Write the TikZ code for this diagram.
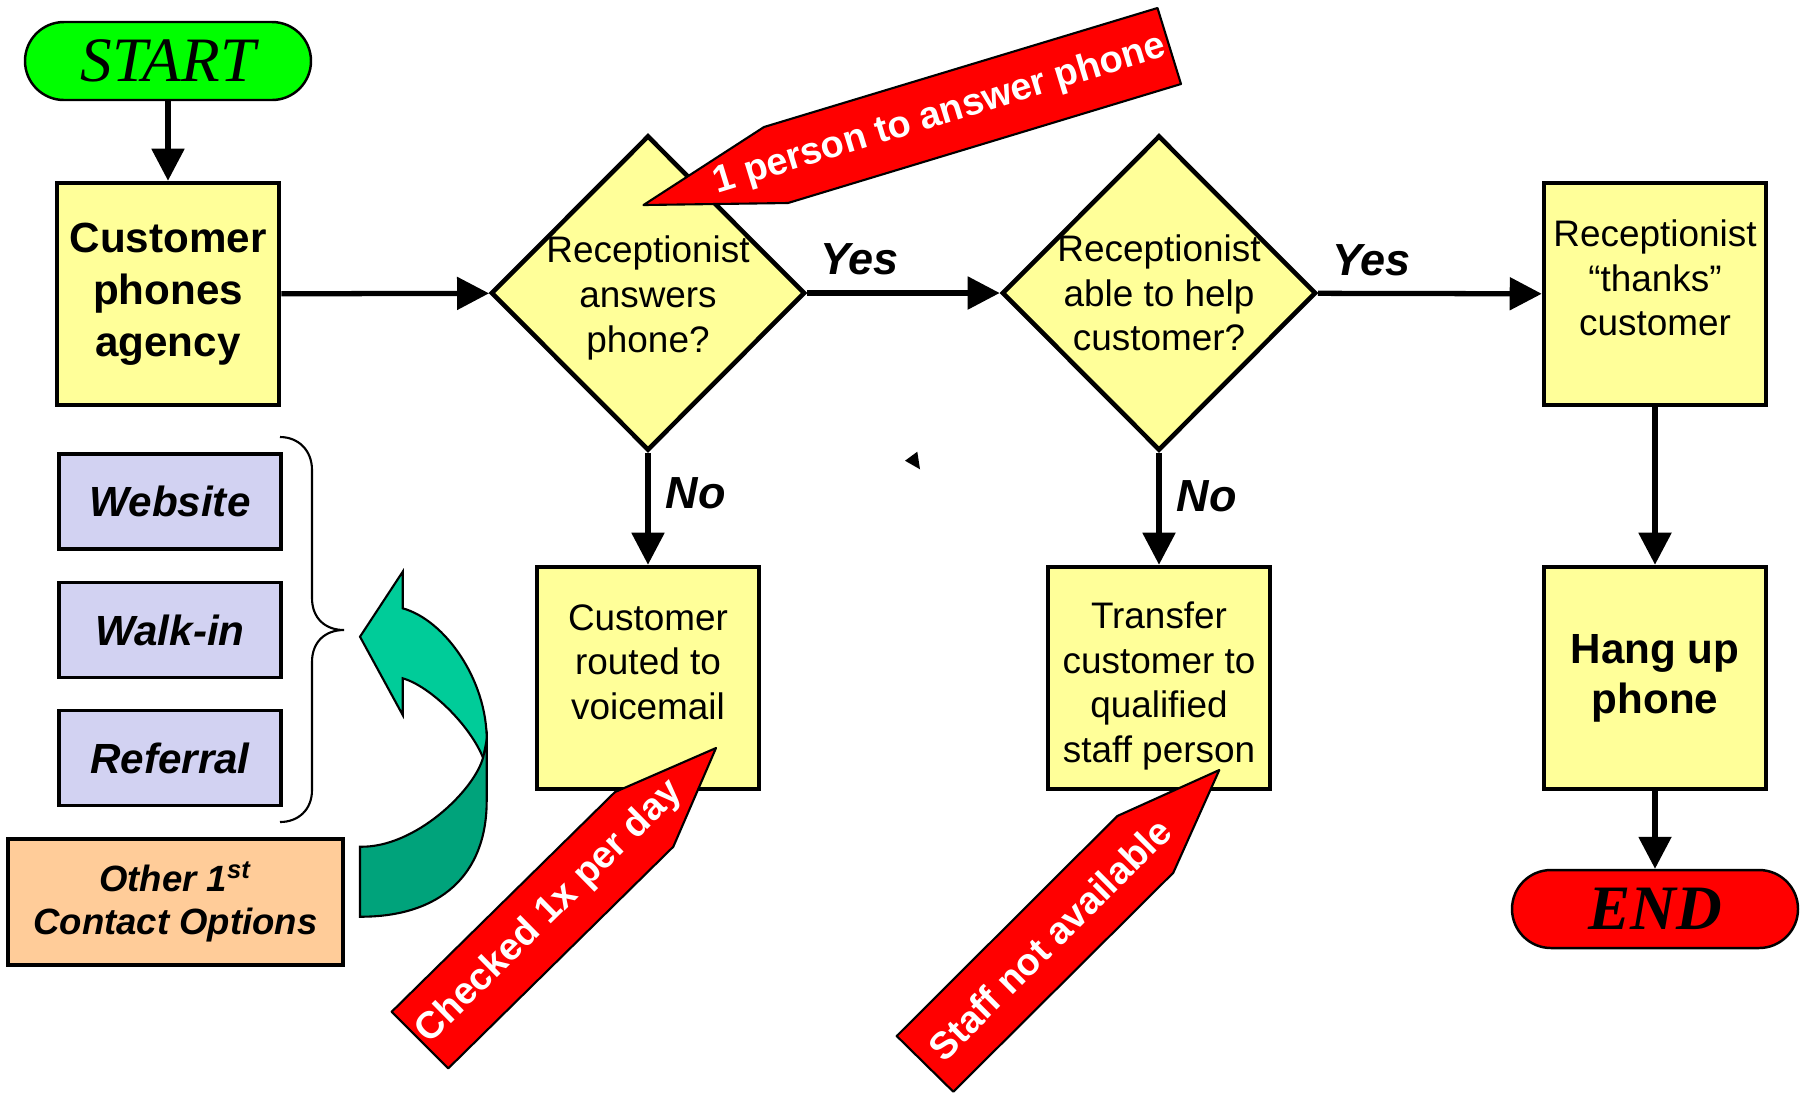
\documentclass[tikz,border=0pt]{standalone}
\usepackage{fontspec}
\setmainfont{Liberation Sans}
\newfontfamily\timesface{Liberation Serif}
\usetikzlibrary{arrows.meta}
\usetikzlibrary{shapes.geometric}
\definecolor{boxyellow}{RGB}{255,255,153}
\definecolor{startgreen}{RGB}{0,255,0}
\definecolor{stopred}{RGB}{255,0,0}
\definecolor{optlilac}{RGB}{210,210,242}
\definecolor{optpeach}{RGB}{255,204,153}
\definecolor{turnlight}{RGB}{0,204,153}
\definecolor{turndark}{RGB}{0,163,123}
\tikzset{%
	>={Triangle[length=3.2mm,width=3.2mm]},
	% node looks
	base/.style = {rectangle, draw=black, line width=1.3pt, fill=boxyellow,
		minimum width=2.22cm, minimum height=2.22cm, inner sep=0pt,
		text centered, align=center},
	process/.style = {base, font=\fontsize{10.5}{12.5}\selectfont},
	processbold/.style = {base, font=\fontsize{12}{14.8}\selectfont\bfseries},
	decision/.style = {diamond, draw=black, line width=1.3pt, fill=boxyellow,
		minimum width=3.14cm, minimum height=3.15cm, inner sep=0pt},
	qtext/.style = {align=center, font=\fontsize{10.5}{12.7}\selectfont},
	terminal/.style = {rectangle, rounded corners=0.39cm, draw=black, line width=0.7pt,
		minimum width=2.86cm, minimum height=0.78cm,
		font=\fontsize{18}{20}\selectfont\timesface\itshape},
	option/.style = {rectangle, draw=black, line width=0.9pt, fill=optlilac,
		minimum width=2.22cm, minimum height=0.95cm,
		font=\fontsize{12}{14}\selectfont\bfseries\itshape},
	flow/.style = {->, line width=1.5pt},
	replylabel/.style = {font=\fontsize{12.8}{14}\selectfont\bfseries\itshape},
	callout/.style = {fill=stopred, draw=black, line width=0.6pt, line join=round},
	callouttext/.style = {text=white, font=\fontsize{10.8}{12}\selectfont\bfseries},
	turn/.style = {draw=black, line width=0.6pt},
}

\begin{document}
\begin{tikzpicture}
	\useasboundingbox (0,0) rectangle (18.07,-10.93);
	% main flow
	\node (start)     [terminal, fill=startgreen] at (1.68,-0.61) {START};
	\node (phones)    [processbold] at (1.68,-2.94) {Customer\\phones\\agency};
	\node (answers)   [decision, label={[qtext, yshift=-0.05cm]center:{Receptionist\\answers\\phone?}}] at (6.48,-2.93) {};
	\node (canhelp)   [decision, label={[qtext]center:{Receptionist\\able to help\\customer?}}] at (11.59,-2.93) {};
	\node (thanks)    [process, label={[qtext, yshift=0.16cm]center:{Receptionist\\``thanks''\\customer}}] at (16.55,-2.94) {};
	\node (voicemail) [process, label={[qtext, yshift=0.16cm]center:{Customer\\routed to\\voicemail}}] at (6.48,-6.78) {};
	\node (transfer)  [process, label={[qtext, yshift=-0.08cm]center:{Transfer\\customer to\\qualified\\staff person}}] at (11.59,-6.78) {};
	\node (hangup)    [processbold, font=\fontsize{12}{14.2}\selectfont\bfseries] at (16.55,-6.78) {Hang up\\phone};
	\node (stop)      [terminal, fill=stopred, font=\fontsize{18}{20}\selectfont\timesface\bfseries\itshape] at (16.55,-9.09) {END};

	\draw[flow] (start) -- (phones);
	\draw[flow] (phones) -- (answers);
	\draw[flow] (answers) -- node[replylabel, pos=0.27, above=1pt] {Yes} (canhelp);
	\draw[flow] (canhelp) -- node[replylabel, pos=0.24, above=1pt] {Yes} (thanks);
	\draw[flow] (answers) -- node[replylabel, pos=0.36, right=1pt] {No} (voicemail);
	\draw[flow] (canhelp) -- node[replylabel, pos=0.39, right=1pt] {No} (transfer);
	\draw[flow] (thanks) -- (hangup);
	\draw[flow] (hangup) -- (stop);

	% other contact options
	\node (website)  [option] at (1.70,-5.015) {Website};
	\node (walkin)   [option] at (1.70,-6.30) {Walk-in};
	\node (referral) [option] at (1.70,-7.58) {Referral};
	\node (other)    [option, fill=optpeach, minimum width=3.35cm, minimum height=1.26cm,
		align=center, font=\fontsize{10.4}{12.2}\selectfont\bfseries\itshape] at (1.755,-9.02)
		{Other 1\textsuperscript{st}\\Contact Options};
	\draw[line width=0.6pt] (2.80,-4.37) .. controls (2.98,-4.37) and (3.12,-4.50) .. (3.12,-4.70)
		-- (3.12,-5.98) .. controls (3.12,-6.18) and (3.25,-6.30) .. (3.44,-6.30)
		.. controls (3.25,-6.30) and (3.12,-6.42) .. (3.12,-6.62)
		-- (3.12,-7.90) .. controls (3.12,-8.10) and (2.98,-8.22) .. (2.80,-8.22);

	% turning arrow
	\filldraw[turn, fill=turnlight] (3.60,-6.367) -- (4.027,-5.717) -- (4.027,-6.083)
		.. controls (4.45,-6.20) and (4.87,-6.80) .. (4.867,-7.40) -- (4.867,-7.60) -- (4.833,-7.583)
		.. controls (4.70,-7.25) and (4.30,-6.86) .. (4.027,-6.783) -- (4.027,-7.15) -- cycle;
	\filldraw[turn, fill=turndark] (3.60,-8.467) -- (3.60,-9.167)
		.. controls (4.40,-9.17) and (4.87,-8.75) .. (4.867,-8.00) -- (4.867,-7.40) -- (4.833,-7.567)
		.. controls (4.75,-7.90) and (4.15,-8.48) .. (3.60,-8.467) -- cycle;

	% red notes
	\filldraw[callout] (6.435,-2.05) -- (7.88,-2.03) -- (11.81,-0.84) -- (11.575,-0.08) -- (7.64,-1.27) -- cycle;
	\node (personnote) [callouttext, rotate=17] at (9.40,-1.15) {1 person to answer phone};
	\filldraw[callout] (7.16,-7.48) -- (6.15,-7.92) -- (3.917,-10.117) -- (4.483,-10.683) -- (6.733,-8.467) -- cycle;
	\node (checknote) [callouttext, rotate=44.6] at (5.496,-9.122) {Checked 1x per day};
	\filldraw[callout] (12.193,-7.70) -- (11.173,-8.16) -- (8.967,-10.36) -- (9.533,-10.917) -- (11.733,-8.727) -- cycle;
	\node (staffnote) [callouttext, rotate=44.9] at (10.496,-9.392) {Staff not available};

	\fill (9.05,-4.607) -- (9.173,-4.517) -- (9.20,-4.693) -- cycle;
\end{tikzpicture}
\end{document}
